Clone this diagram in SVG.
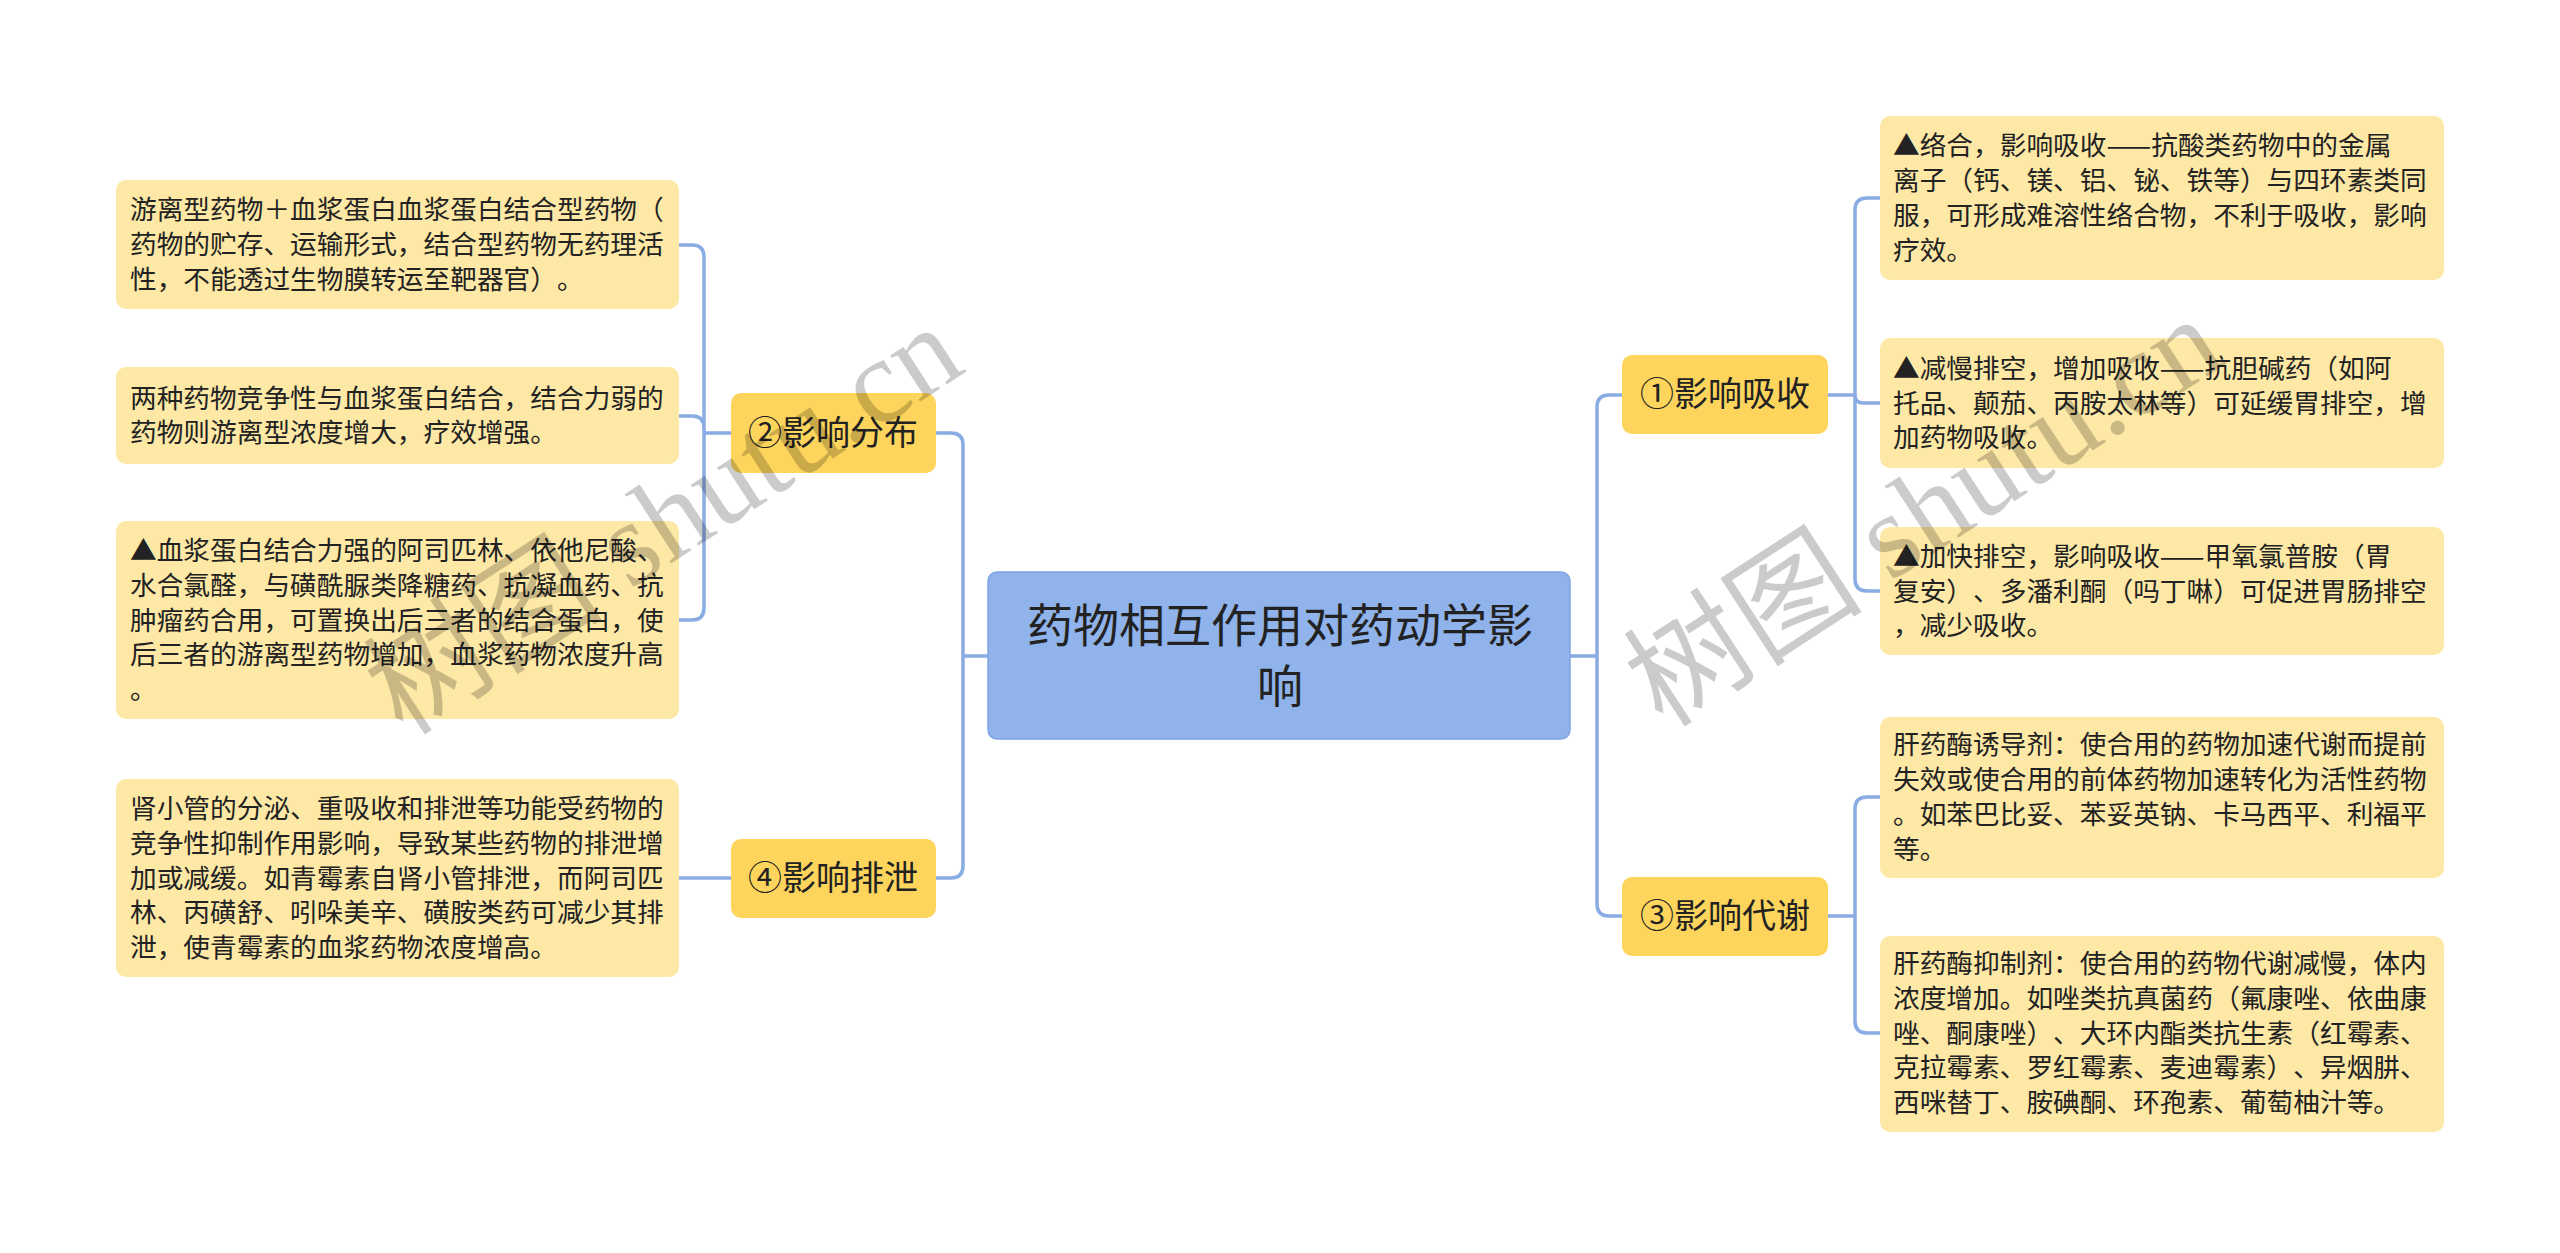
<svg xmlns="http://www.w3.org/2000/svg" width="2560" height="1253" viewBox="0 0 2560 1253">
<style>
.leaf{fill:#fde8a6;}
.l1{fill:#fed55c;}
.root{fill:#8fb3ea;stroke:#80a5e2;stroke-width:1.5;}
.t{font-family:"Noto Sans CJK SC","Noto Sans",sans-serif;fill:#222;text-spacing-trim:space-all;}
.lt{font-size:26.7px;}
.l1t{font-size:34px;text-anchor:middle;}
.rt{font-size:46px;text-anchor:middle;}
.c{fill:none;stroke:#8aace4;stroke-width:3.5;}
.wm{font-family:"Liberation Serif","Noto Sans CJK SC",serif;font-size:120px;fill:#000;opacity:0.2;text-anchor:middle;}
</style>
<rect width="2560" height="1253" fill="#ffffff"/>
<g id="connectors">
<path class="c" d="M988 656H963M963 656V445Q963 433 951 433H936M963 656V866Q963 878 951 878H936"/>
<path class="c" d="M731 433H704M704 433V257Q704 245 692 245H679M704 433V428Q704 416 692 416H679M704 433V608Q704 620 692 620H679"/>
<path class="c" d="M731 878H679"/>
<path class="c" d="M1570 656H1597M1597 656V407Q1597 395 1609 395H1622M1597 656V904Q1597 916 1609 916H1622"/>
<path class="c" d="M1828 395H1855M1855 395V210Q1855 198 1867 198H1880M1855 395Q1855 403 1863 403H1880M1855 395V579Q1855 591 1867 591H1880"/>
<path class="c" d="M1828 916H1855M1855 916V809Q1855 797 1867 797H1880M1855 916V1021Q1855 1033 1867 1033H1880"/>
</g>
<g id="root">
<rect class="root" x="988" y="572" width="582" height="167" rx="9"/>
<text class="t rt" x="1280" y="642">药物相互作用对药动学影</text>
<text class="t rt" x="1280" y="703">响</text>
</g>
<g id="n2">
<rect class="l1" x="731" y="393" width="205" height="80" rx="10"/>
<text class="t l1t" x="833" y="445">②影响分布</text>
</g>
<g id="n4">
<rect class="l1" x="731" y="839" width="205" height="79" rx="10"/>
<text class="t l1t" x="833" y="890">④影响排泄</text>
</g>
<g id="n1">
<rect class="l1" x="1622" y="355" width="206" height="79" rx="10"/>
<text class="t l1t" x="1725" y="406">①影响吸收</text>
</g>
<g id="n3">
<rect class="l1" x="1622" y="877" width="206" height="79" rx="10"/>
<text class="t l1t" x="1725" y="928">③影响代谢</text>
</g>
<g id="leaf-l1">
<rect class="leaf" x="116" y="180" width="563" height="129" rx="10"/>
<text class="t lt"><tspan x="130" y="219">游离型药物＋血浆蛋白血浆蛋白结合型药物（</tspan><tspan x="130" y="254">药物的贮存、运输形式，结合型药物无药理活</tspan><tspan x="130" y="289">性，不能透过生物膜转运至靶器官）。</tspan></text>
</g>
<g id="leaf-l2">
<rect class="leaf" x="116" y="367" width="563" height="97" rx="10"/>
<text class="t lt"><tspan x="130" y="408">两种药物竞争性与血浆蛋白结合，结合力弱的</tspan><tspan x="130" y="442">药物则游离型浓度增大，疗效增强。</tspan></text>
</g>
<g id="leaf-l3">
<rect class="leaf" x="116" y="521" width="563" height="198" rx="10"/>
<text class="t lt"><tspan x="130" y="560">▲血浆蛋白结合力强的阿司匹林、依他尼酸、</tspan><tspan x="130" y="595">水合氯醛，与磺酰脲类降糖药、抗凝血药、抗</tspan><tspan x="130" y="630">肿瘤药合用，可置换出后三者的结合蛋白，使</tspan><tspan x="130" y="664">后三者的游离型药物增加，血浆药物浓度升高</tspan><tspan x="130" y="699">。</tspan></text>
</g>
<g id="leaf-l4">
<rect class="leaf" x="116" y="779" width="563" height="198" rx="10"/>
<text class="t lt"><tspan x="130" y="818">肾小管的分泌、重吸收和排泄等功能受药物的</tspan><tspan x="130" y="853">竞争性抑制作用影响，导致某些药物的排泄增</tspan><tspan x="130" y="888">加或减缓。如青霉素自肾小管排泄，而阿司匹</tspan><tspan x="130" y="922">林、丙磺舒、吲哚美辛、磺胺类药可减少其排</tspan><tspan x="130" y="957">泄，使青霉素的血浆药物浓度增高。</tspan></text>
</g>
<g id="leaf-r1">
<rect class="leaf" x="1880" y="116" width="564" height="164" rx="10"/>
<text class="t lt"><tspan x="1893" y="155">▲络合，影响吸收——抗酸类药物中的金属</tspan><tspan x="1893" y="190">离子（钙、镁、铝、铋、铁等）与四环素类同</tspan><tspan x="1893" y="225">服，可形成难溶性络合物，不利于吸收，影响</tspan><tspan x="1893" y="260">疗效。</tspan></text>
</g>
<g id="leaf-r2">
<rect class="leaf" x="1880" y="338" width="564" height="130" rx="10"/>
<text class="t lt"><tspan x="1893" y="378">▲减慢排空，增加吸收——抗胆碱药（如阿</tspan><tspan x="1893" y="413">托品、颠茄、丙胺太林等）可延缓胃排空，增</tspan><tspan x="1893" y="447">加药物吸收。</tspan></text>
</g>
<g id="leaf-r3">
<rect class="leaf" x="1880" y="527" width="564" height="128" rx="10"/>
<text class="t lt"><tspan x="1893" y="566">▲加快排空，影响吸收——甲氧氯普胺（胃</tspan><tspan x="1893" y="601">复安）、多潘利酮（吗丁啉）可促进胃肠排空</tspan><tspan x="1893" y="635">，减少吸收。</tspan></text>
</g>
<g id="leaf-r4">
<rect class="leaf" x="1880" y="717" width="564" height="161" rx="10"/>
<text class="t lt"><tspan x="1893" y="754">肝药酶诱导剂：使合用的药物加速代谢而提前</tspan><tspan x="1893" y="789">失效或使合用的前体药物加速转化为活性药物</tspan><tspan x="1893" y="824">。如苯巴比妥、苯妥英钠、卡马西平、利福平</tspan><tspan x="1893" y="859">等。</tspan></text>
</g>
<g id="leaf-r5">
<rect class="leaf" x="1880" y="936" width="564" height="196" rx="10"/>
<text class="t lt"><tspan x="1893" y="973">肝药酶抑制剂：使合用的药物代谢减慢，体内</tspan><tspan x="1893" y="1008">浓度增加。如唑类抗真菌药（氟康唑、依曲康</tspan><tspan x="1893" y="1043">唑、酮康唑）、大环内酯类抗生素（红霉素、</tspan><tspan x="1893" y="1077">克拉霉素、罗红霉素、麦迪霉素）、异烟肼、</tspan><tspan x="1893" y="1112">西咪替丁、胺碘酮、环孢素、葡萄柚汁等。</tspan></text>
</g>
<g id="watermarks">
<text class="wm" transform="translate(665 522) rotate(-33)" y="38">树图 shutu.cn</text>
<text class="wm" transform="translate(1925 514) rotate(-33)" y="38">树图 shutu.cn</text>
</g>
</svg>
